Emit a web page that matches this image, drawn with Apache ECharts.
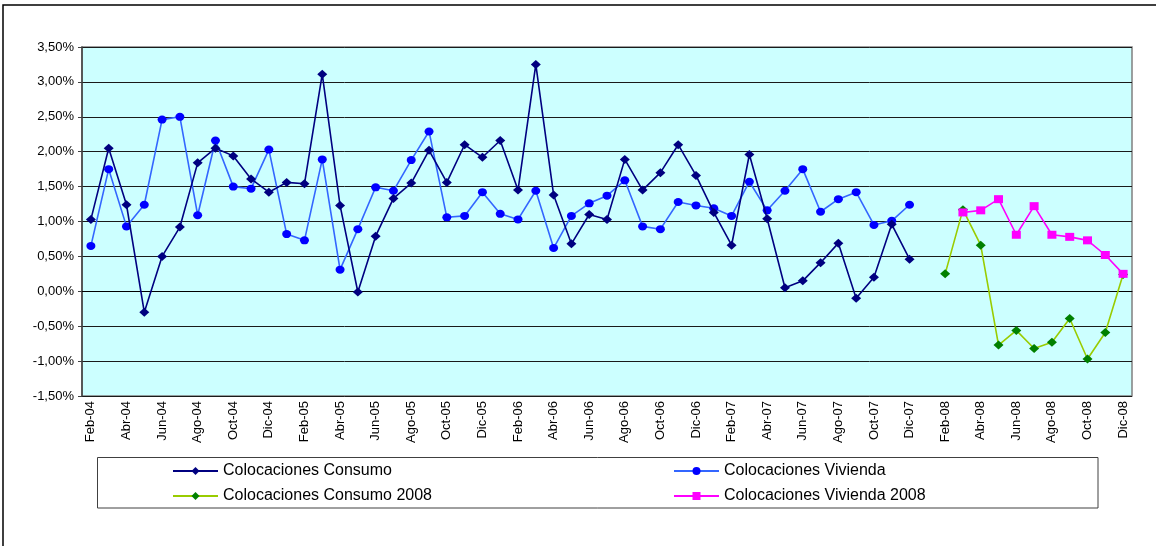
<!DOCTYPE html>
<html>
<head>
<meta charset="utf-8">
<script src="https://cdn.jsdelivr.net/npm/echarts@6/dist/echarts.min.js"></script>
<style>
  html, body { margin: 0; padding: 0; background: #fff; }
  #chart { width: 1156px; height: 546px; }
</style>
</head>
<body>
<div id="chart"></div>
<script>
// Monthly categories, Feb-04 .. Dec-08
const months = [
  'Feb-04','Mar-04','Abr-04','May-04','Jun-04','Jul-04','Ago-04','Sep-04','Oct-04','Nov-04','Dic-04',
  'Ene-05','Feb-05','Mar-05','Abr-05','May-05','Jun-05','Jul-05','Ago-05','Sep-05','Oct-05','Nov-05','Dic-05',
  'Ene-06','Feb-06','Mar-06','Abr-06','May-06','Jun-06','Jul-06','Ago-06','Sep-06','Oct-06','Nov-06','Dic-06',
  'Ene-07','Feb-07','Mar-07','Abr-07','May-07','Jun-07','Jul-07','Ago-07','Sep-07','Oct-07','Nov-07','Dic-07',
  'Ene-08','Feb-08','Mar-08','Abr-08','May-08','Jun-08','Jul-08','Ago-08','Sep-08','Oct-08','Nov-08','Dic-08'
];

// Monthly change, % (Feb-04 .. Dic-07)
const consumo = [
  1.03, 2.05, 1.24, -0.30, 0.50, 0.92, 1.84, 2.05, 1.94, 1.61, 1.42,
  1.56, 1.54, 3.11, 1.23, -0.01, 0.79, 1.33, 1.55, 2.02, 1.56, 2.10, 1.92,
  2.16, 1.45, 3.25, 1.38, 0.68, 1.10, 1.03, 1.89, 1.45, 1.70, 2.10, 1.66,
  1.13, 0.66, 1.96, 1.04, 0.05, 0.15, 0.41, 0.69, -0.10, 0.20, 0.96, 0.46
];
const vivienda = [
  0.65, 1.75, 0.93, 1.24, 2.46, 2.50, 1.09, 2.16, 1.50, 1.47, 2.03,
  0.82, 0.73, 1.89, 0.31, 0.89, 1.49, 1.44, 1.88, 2.29, 1.06, 1.08, 1.42,
  1.11, 1.03, 1.44, 0.62, 1.08, 1.26, 1.37, 1.59, 0.93, 0.89, 1.28, 1.23,
  1.19, 1.08, 1.57, 1.16, 1.44, 1.75, 1.14, 1.32, 1.42, 0.95, 1.01, 1.24
];
// 2008 series: Consumo from Feb-08, Vivienda from Mar-08
const consumo2008Start = 'Feb-08';
const consumo2008 = [0.25, 1.17, 0.66, -0.77, -0.56, -0.82, -0.73, -0.39, -0.97, -0.59, 0.24];
const vivienda2008Start = 'Mar-08';
const vivienda2008 = [1.13, 1.16, 1.32, 0.81, 1.22, 0.81, 0.78, 0.73, 0.52, 0.25];

// Place a run of values on the full month axis, leaving other months empty
function placeFrom(startLabel, values) {
  const out = months.map(() => null);
  const s = months.indexOf(startLabel);
  values.forEach((v, i) => { out[s + i] = v; });
  return out;
}

const FONT = "'Liberation Sans', Arial, sans-serif";
const pct = v => v.toFixed(2).replace('.', ',') + '%';

const chart = echarts.init(document.getElementById('chart'), null, { renderer: 'canvas' });

function legendItem(name, left, top) {
  return {
    data: [name], left: left, top: top, padding: 0,
    itemWidth: 45, itemHeight: 10, itemGap: 0,
    selectedMode: false,
    textStyle: { fontFamily: FONT, fontSize: 16, color: '#000' }
  };
}

chart.setOption({
  animation: false,
  backgroundColor: '#fff',
  textStyle: { fontFamily: FONT },
  graphic: [
    { type: 'rect', shape: { x: 3, y: 5, width: 1170, height: 560 },
      style: { fill: 'none', stroke: '#000', lineWidth: 1.5 }, silent: true, z: -1 },
    { type: 'rect', shape: { x: 97.5, y: 457.5, width: 1000.5, height: 50.5 },
      style: { fill: '#fff', stroke: '#404040', lineWidth: 1 }, silent: true, z: -1 }
  ],
  legend: [
    legendItem('Colocaciones Consumo', 172, 463),
    legendItem('Colocaciones Vivienda', 673, 463),
    legendItem('Colocaciones Consumo 2008', 172, 488),
    legendItem('Colocaciones Vivienda 2008', 673, 488)
  ],
  grid: {
    left: 82, top: 47, right: 24, bottom: 150,
    show: true, backgroundColor: '#CCFFFF', borderColor: '#808080', borderWidth: 1.5
  },
  xAxis: {
    type: 'category',
    data: months,
    boundaryGap: true,
    axisLine: { lineStyle: { color: '#000', width: 1 } },
    axisTick: { interval: 1, length: 4, lineStyle: { color: '#000' } },
    axisLabel: { interval: 1, rotate: 90, margin: 5, fontSize: 13, color: '#000', fontFamily: FONT },
    splitLine: { show: false }
  },
  yAxis: {
    type: 'value',
    min: -1.5, max: 3.5, interval: 0.5,
    axisLine: { show: true, lineStyle: { color: '#404040', width: 1.5 } },
    axisTick: { show: true, length: 4, lineStyle: { color: '#404040' } },
    axisLabel: { formatter: pct, margin: 8, fontSize: 13, color: '#000', fontFamily: FONT },
    splitLine: { lineStyle: { color: '#1a1a1a', width: 1 } }
  },
  series: [
    {
      name: 'Colocaciones Consumo', type: 'line', data: consumo,
      symbol: 'diamond', symbolSize: [10, 9],
      lineStyle: { color: '#000080', width: 1.6 },
      itemStyle: { color: '#000080' }, z: 3
    },
    {
      name: 'Colocaciones Vivienda', type: 'line', data: vivienda,
      symbol: 'circle', symbolSize: [9, 8],
      lineStyle: { color: '#3366FF', width: 1.6 },
      itemStyle: { color: '#0000FF' }, z: 2
    },
    {
      name: 'Colocaciones Consumo 2008', type: 'line', data: placeFrom(consumo2008Start, consumo2008),
      symbol: 'diamond', symbolSize: [10, 9],
      lineStyle: { color: '#99CC00', width: 1.6 },
      itemStyle: { color: '#008000' }, z: 2
    },
    {
      name: 'Colocaciones Vivienda 2008', type: 'line', data: placeFrom(vivienda2008Start, vivienda2008),
      symbol: 'rect', symbolSize: [9, 8],
      lineStyle: { color: '#FF00FF', width: 1.6 },
      itemStyle: { color: '#FF00FF' }, z: 3
    }
  ]
});
</script>
</body>
</html>
